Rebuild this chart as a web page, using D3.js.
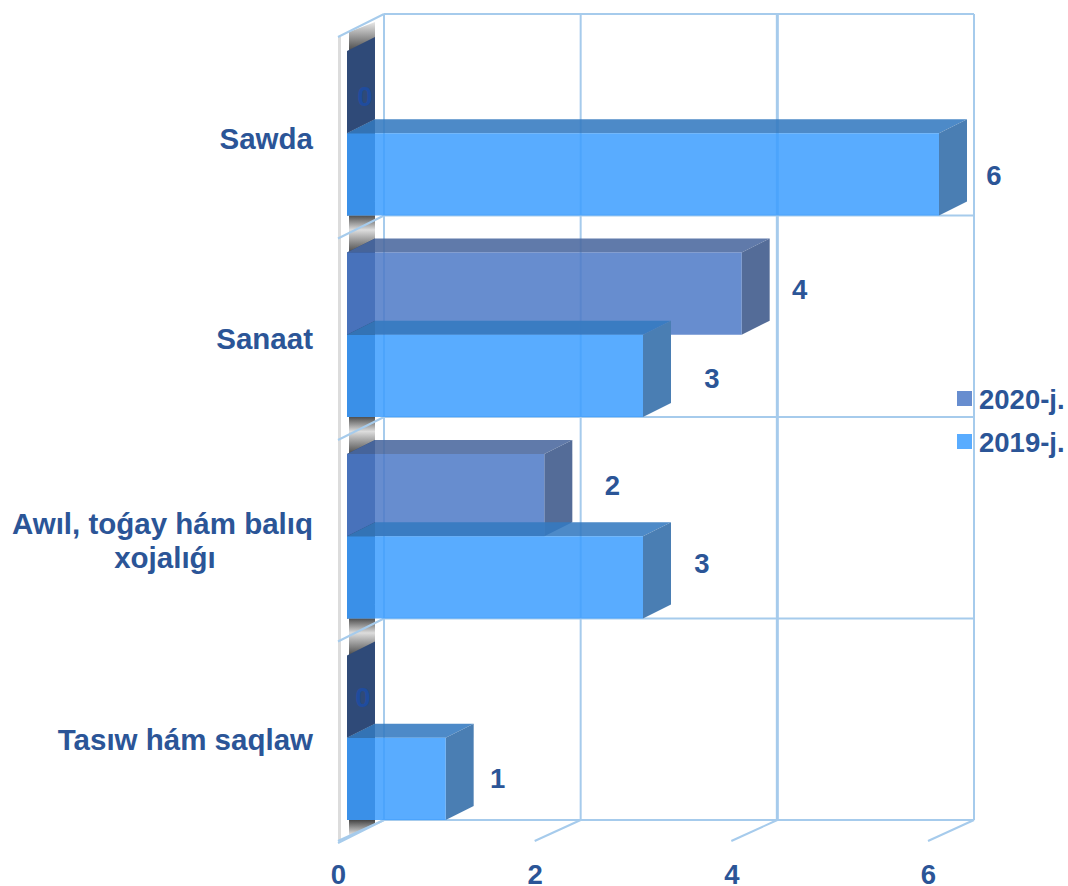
<!DOCTYPE html>
<html>
<head>
<meta charset="utf-8">
<script src="https://cdn.jsdelivr.net/npm/d3@7/dist/d3.min.js"></script>
<style>
  html, body { margin: 0; padding: 0; background: #fff; }
  text { font-family: "Liberation Sans", Arial, sans-serif; font-weight: bold; fill: #2b5597; }
</style>
</head>
<body>
<div id="chart"></div>
<script>
// top to bottom, the way the chart reads
var categories = ["Sawda", "Sanaat", "Awıl, toǵay hám balıq xojalıǵı", "Tasıw hám saqlaw"];
var values2019 = [6, 3, 3, 1];
var values2020 = [0, 4, 2, 0];
var xTicks = [0, 2, 4, 6];
var seriesNames = ["2020-j.", "2019-j."];

var width = 1068, height = 886;

// 3d depth of the box and of each bar
var wallDx = 46, wallDy = -23;
var barDx = 28, barDy = -14;

var svg = d3.select("#chart").append("svg").attr("width", width).attr("height", height);
var defs = svg.append("defs");

function addGradient(id, stops) {
  var g = defs.append("linearGradient").attr("id", id).attr("x1", 0).attr("y1", 0).attr("x2", 0).attr("y2", 1);
  stops.forEach(function(s) {
    g.append("stop").attr("offset", s[0]).attr("stop-color", s[1]);
  });
}
addGradient("fadeTop", [["0%", "#e8e8e8"], ["100%", "#444444"]]);
addGradient("fadeMid", [["0%", "#4f4f4f"], ["38%", "#dddddd"], ["100%", "#444444"]]);
addGradient("fadeEnd", [["0%", "#444444"], ["100%", "#f0f0f0"]]);

// x is the front plane of the chart floor, y the back wall rows
var x = d3.scaleLinear().domain([0, 6]).range([338, 928]);
var barX = d3.scaleLinear().domain([0, 6]).range([347, 939]);
var y = d3.scaleBand().domain(categories).range([14, 820]);
var series = d3.scaleBand().domain(["2020", "2019"]).range([37, y.bandwidth()]);

function poly(points) {
  return d3.line()(points) + "Z";
}

// left wall
svg.append("rect").attr("x", 338).attr("y", 37).attr("width", 3).attr("height", 804).attr("fill", "#dcdcdc");

// grey smudge behind each row
var smudge = svg.append("g");
categories.forEach(function(c, i) {
  var top = y(c);
  if (i === 0) {
    smudge.append("path")
      .attr("d", poly([[349, top + 18], [375, top + 8], [375, top + 38], [349, top + 38]]))
      .attr("fill", "url(#fadeTop)");
  } else {
    smudge.append("rect")
      .attr("x", 349).attr("y", top)
      .attr("width", 26).attr("height", 38)
      .attr("fill", "url(#fadeMid)");
  }
});
smudge.append("path")
  .attr("d", poly([[349, 820], [375, 820], [375, 824], [349, 836]]))
  .attr("fill", "url(#fadeEnd)");

// grid on back wall and diagonals on the floor
var grid = svg.append("g").attr("fill", "none").attr("stroke", "#a6cbec");

xTicks.forEach(function(t) {
  var gx = x(t) + wallDx;
  grid.append("line").attr("x1", gx).attr("x2", gx).attr("y1", 14).attr("y2", 820)
    .attr("stroke-width", t === 4 ? 3 : 2);
  grid.append("line").attr("x1", x(t)).attr("y1", 841).attr("x2", gx).attr("y2", 820)
    .attr("stroke-width", 2);
});

categories.map(function(c) { return y(c); }).concat([820]).forEach(function(gy) {
  grid.append("line").attr("x1", x(0) + wallDx).attr("x2", x(6) + wallDx).attr("y1", gy).attr("y2", gy)
    .attr("stroke-width", 2);
  grid.append("line").attr("x1", x(0)).attr("y1", gy - wallDy).attr("x2", x(0) + wallDx).attr("y2", gy)
    .attr("stroke-width", 2);
});

// bars, 2020 row behind the 2019 row
var styles = {
  "2020": { front: "rgb(76,121,199)", side: "#546c98", top: "rgb(74,104,158)", left: "#2f4a78", key: "#678dcf" },
  "2019": { front: "rgb(60,157,255)", side: "#4a7eb3", top: "rgb(52,122,192)", left: "#2f4664", key: "#59acff" }
};

function drawBars(name, values) {
  var s = styles[name];
  var g = svg.append("g").attr("class", "bars-" + name);
  values.forEach(function(v, i) {
    var top = y(categories[i]) + series(name);
    var bottom = top + series.bandwidth();
    var x0 = barX(0), x1 = barX(v);

    g.append("path")
      .attr("d", poly([[x0, top], [x0 + barDx, top + barDy], [x0 + barDx, bottom + barDy], [x0, bottom]]))
      .attr("fill", s.left);
    if (v === 0) return;
    g.append("path")
      .attr("d", poly([[x0, bottom + barDy], [x0 + barDx, bottom + barDy], [x0 + barDx, bottom], [x0, bottom]]))
      .attr("fill", s.left);
    g.append("path")
      .attr("d", poly([[x0, top], [x0 + barDx, top + barDy], [x1 + barDx, top + barDy], [x1, top]]))
      .attr("fill", s.top).attr("fill-opacity", 0.88);
    g.append("path")
      .attr("d", poly([[x1, top], [x1 + barDx, top + barDy], [x1 + barDx, bottom + barDy], [x1, bottom]]))
      .attr("fill", s.side);
    g.append("rect")
      .attr("x", x0).attr("y", top)
      .attr("width", x1 - x0).attr("height", bottom - top)
      .attr("fill", s.front).attr("fill-opacity", 0.85);
  });
}

drawBars("2020", values2020);
drawBars("2019", values2019);

// value labels were dragged by hand in the original, so they carry their own nudges
var nudge2019 = [[55, 1], [69, 3], [59, -14], [52, 0]];
var nudge2020 = [[18, 4], [58, -4], [68, -10], [16, 1]];

function drawLabels(name, values, nudge) {
  svg.append("g").selectAll("text")
    .data(values)
    .enter().append("text")
      .attr("x", function(d, i) { return barX(d) + nudge[i][0]; })
      .attr("y", function(d, i) { return y(categories[i]) + series(name) + series.bandwidth() / 2 + nudge[i][1]; })
      .attr("text-anchor", "middle")
      .attr("dominant-baseline", "central")
      .style("font-size", "27.5px")
      .style("fill", function(d) { return d === 0 ? "#1f4c9e" : null; })
      .text(function(d) { return d; });
}

drawLabels("2020", values2020, nudge2020);
drawLabels("2019", values2019, nudge2019);

// x axis numbers
var axis = svg.append("g")
  .attr("transform", "translate(0,860)")
  .call(d3.axisBottom(x).tickValues(xTicks).tickSize(0).tickPadding(4.5).tickFormat(d3.format("d")));
axis.select(".domain").remove();
axis.selectAll("text").attr("font-family", null).style("font-size", "27.5px");

// category names, the long one breaks in two
var catLines = [["Sawda"], ["Sanaat"], ["Awıl, toǵay hám balıq", "xojalıǵı"], ["Tasıw hám saqlaw"]];
var catY = [139, 339, 539, 740];

var catLabels = svg.append("g").selectAll("text")
  .data(categories)
  .enter().append("text")
    .attr("y", function(d, i) { return catY[i]; })
    .style("font-size", "29.5px");

catLabels.each(function(d, i) {
  var t = d3.select(this);
  var lines = catLines[i];
  lines.forEach(function(line, j) {
    t.append("tspan")
      .attr("x", j === 0 ? 313 : 165)
      .attr("dy", j === 0 ? (lines.length > 1 ? "-0.17em" : "0.35em") : "1.15em")
      .attr("text-anchor", j === 0 ? "end" : "middle")
      .text(line);
  });
});

// legend
var legendY = [399, 442];
var legend = svg.append("g").selectAll("g")
  .data(seriesNames)
  .enter().append("g")
    .attr("transform", function(d, i) { return "translate(957," + legendY[i] + ")"; });

legend.append("rect")
  .attr("y", -8).attr("width", 15).attr("height", 15)
  .attr("fill", function(d, i) { return i === 0 ? styles["2020"].key : styles["2019"].key; });

legend.append("text")
  .attr("x", 22)
  .attr("dominant-baseline", "central")
  .style("font-size", "27.5px")
  .text(function(d) { return d; });
</script>
</body>
</html>
